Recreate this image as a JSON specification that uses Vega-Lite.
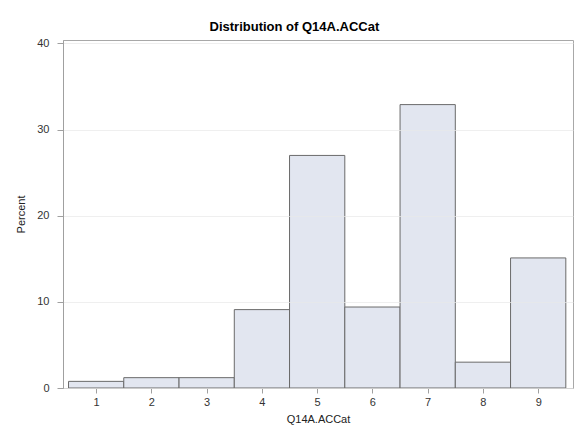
{
  "$schema": "https://vega.github.io/schema/vega-lite/v6.json",
  "width": 510,
  "height": 348,
  "autosize": {"type": "none"},
  "padding": {"left": 63, "top": 40, "right": 1, "bottom": 51},
  "background": "white",
  "title": {
    "text": "Distribution of Q14A.ACCat",
    "font": "Liberation Sans",
    "fontSize": 13,
    "fontWeight": "bold",
    "color": "#000000",
    "anchor": "middle",
    "frame": "bounds",
    "offset": 3
  },
  "data": {
    "values": [
      {"cat": 1, "start": 0.5, "end": 1.5, "percent": 0.77},
      {"cat": 2, "start": 1.5, "end": 2.5, "percent": 1.2},
      {"cat": 3, "start": 2.5, "end": 3.5, "percent": 1.2},
      {"cat": 4, "start": 3.5, "end": 4.5, "percent": 9.1},
      {"cat": 5, "start": 4.5, "end": 5.5, "percent": 27.0},
      {"cat": 6, "start": 5.5, "end": 6.5, "percent": 9.4},
      {"cat": 7, "start": 6.5, "end": 7.5, "percent": 32.9},
      {"cat": 8, "start": 7.5, "end": 8.5, "percent": 3.0},
      {"cat": 9, "start": 8.5, "end": 9.5, "percent": 15.1}
    ]
  },
  "mark": {"type": "rect", "fill": "#e2e6f0", "stroke": "#6a6a6a", "strokeWidth": 1},
  "encoding": {
    "x": {
      "field": "start",
      "type": "quantitative",
      "scale": {"domain": [0.4, 9.63], "nice": false, "zero": false},
      "axis": {
        "values": [1, 2, 3, 4, 5, 6, 7, 8, 9],
        "title": "Q14A.ACCat",
        "grid": false,
        "tickSize": 5,
        "labelPadding": 3,
        "titlePadding": 6
      }
    },
    "x2": {"field": "end"},
    "y": {
      "field": "percent",
      "type": "quantitative",
      "scale": {"domain": [0, 40.4], "nice": false},
      "axis": {
        "values": [0, 10, 20, 30, 40],
        "title": "Percent",
        "grid": true,
        "gridColor": "#e8e8e8",
        "gridOpacity": 0.7,
        "zindex": 1,
        "tickSize": 6,
        "labelPadding": 8,
        "titlePadding": 10
      }
    }
  },
  "config": {
    "view": {"stroke": "#a8a8a8", "strokeWidth": 1},
    "axis": {
      "labelFont": "Liberation Sans",
      "titleFont": "Liberation Sans",
      "labelFontSize": 11,
      "titleFontSize": 11,
      "titleFontWeight": "normal",
      "labelColor": "#333333",
      "titleColor": "#222222",
      "domainColor": "#a0a0a0",
      "tickColor": "#a0a0a0"
    }
  }
}
